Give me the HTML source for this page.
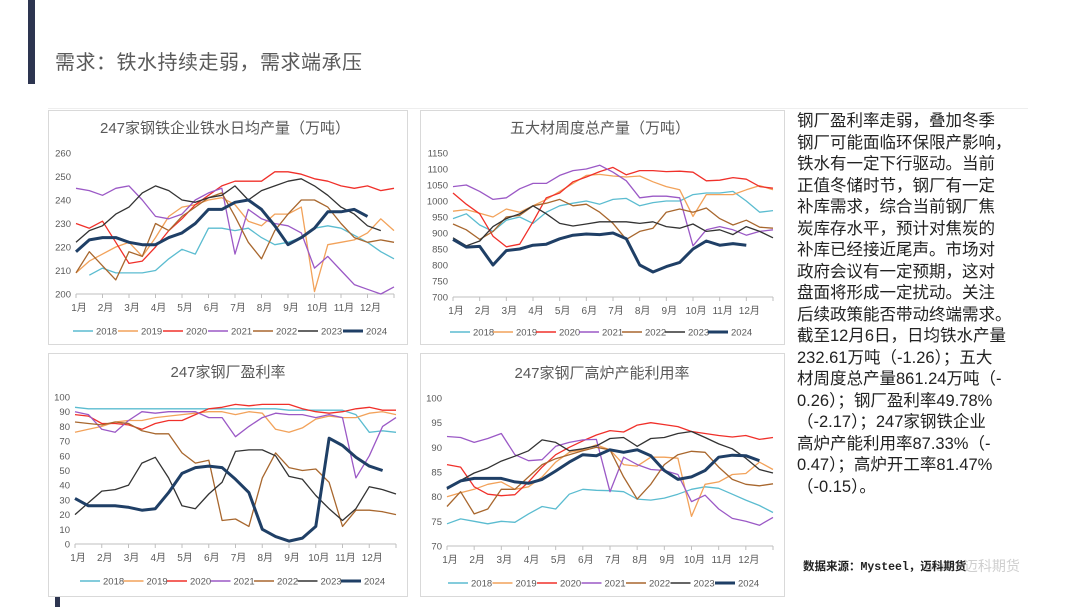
<!DOCTYPE html>
<html><head><meta charset="utf-8">
<style>
body{margin:0;width:1080px;height:607px;background:#fff;position:relative;overflow:hidden;font-family:"Liberation Sans","Noto Sans CJK SC",sans-serif;}
.abs{position:absolute;}
#title{left:55px;top:46px;font-size:20px;color:#5a5a5a;letter-spacing:0.5px;}
#body-text{left:797px;top:111px;font-size:16.5px;line-height:21.5px;color:#222;white-space:nowrap;}
#source{left:803px;top:558px;font-size:11.5px;font-weight:bold;color:#222;font-family:"Liberation Mono","Noto Sans CJK SC",monospace;}
.panel{position:absolute;border:1px solid #d9d9d9;box-sizing:border-box;}
</style></head><body>
<div class="abs" style="left:28px;top:0;width:7px;height:84px;background:#2d3550"></div>
<div class="abs" style="left:55px;top:596px;width:5px;height:11px;background:#2d3550"></div>
<div class="abs" id="title">需求：铁水持续走弱，需求端承压</div>
<div class="abs" style="left:48px;top:108px;width:980px;height:1px;background:#eeeeee"></div>
<div class="panel" style="left:48px;top:110px;width:360px;height:235px"></div>
<div class="panel" style="left:420px;top:110px;width:365px;height:235px"></div>
<div class="panel" style="left:48px;top:353px;width:360px;height:244px"></div>
<div class="panel" style="left:420px;top:353px;width:365px;height:244px"></div>
<svg id="svg" class="abs" style="left:0;top:0" width="1080" height="607"></svg>
<div class="abs" id="body-text">钢厂盈利率走弱，叠加冬季<br>钢厂可能面临环保限产影响，<br>铁水有一定下行驱动。当前<br>正值冬储时节，钢厂有一定<br>补库需求，综合当前钢厂焦<br>炭库存水平，预计对焦炭的<br>补库已经接近尾声。市场对<br>政府会议有一定预期，这对<br>盘面将形成一定扰动。关注<br>后续政策能否带动终端需求。<br>截至12月6日，日均铁水产量<br>232.61万吨（-1.26）；五大<br>材周度总产量861.24万吨（-<br>0.26）；钢厂盈利率49.78%<br>（-2.17）；247家钢铁企业<br>高炉产能利用率87.33%（-<br>0.47）；高炉开工率81.47%<br>（-0.15）。</div>
<div class="abs" style="left:925px;top:556px;font-size:14px;font-weight:bold;color:#cfcfcf;font-style:italic">Maike<span style="font-style:normal;font-weight:normal">迈科期货</span></div>
<div class="abs" id="source">数据来源：Mysteel，迈科期货</div>
<script>
const years=["2018","2019","2020","2021","2022","2023","2024"];
const colors=["#5bbcd0","#f2a25a","#f0302a","#9b59c6","#a8672e","#333333","#1f3f66"];
const months=["1月","2月","3月","4月","5月","6月","7月","8月","9月","10月","11月","12月"];
const c1Ticks=[200,210,220,230,240,250,260];
const c1_2018=[null,208,211,209,209,209,210,215,219,217,228,228,227,228,224,221,222,224,228,229,228,225,222,218,215];
const c1_2019=[209,214,217,220,222,216,224,233,237,238,240,241,238,231,229,234,234,237,201,221,222,223,226,232,227];
const c1_2020=[230,228,231,222,213,214,220,227,232,238,242,246,248,248,248,252,252,251,249,248,246,245,246,244,245];
const c1_2021=[245,244,242,245,246,240,233,232,234,240,243,245,217,236,232,230,229,226,211,216,210,204,202,199,203];
const c1_2022=[209,218,212,206,218,216,230,227,233,237,241,243,233,222,215,227,234,240,240,237,230,224,222,223,222];
const c1_2023=[222,227,229,234,237,243,246,244,240,239,241,242,246,240,244,246,248,249,246,242,237,234,229,227];
const c1_2024=[218,223,224,224,222,221,221,224,226,230,236,236,239,240,236,229,221,224,228,235,235,236,233];
const c2Ticks=[700,750,800,850,900,950,1000,1050,1100,1150];
const c2_2018=[945,960,925,905,940,950,930,965,985,993,1000,990,1005,1008,985,995,1000,1000,1020,1025,1025,1030,1000,965,970];
const c2_2019=[968,973,962,950,975,965,985,1005,1030,1055,1080,1083,1078,1075,1078,1060,1045,1035,952,1020,1020,1020,1035,1048,1035];
const c2_2020=[1025,990,960,890,857,865,935,1010,1025,1060,1075,1092,1105,1082,1095,1095,1092,1093,1090,1063,1065,1073,1068,1045,1040];
const c2_2021=[1045,1050,1030,1005,1010,1038,1055,1055,1080,1095,1100,1112,1090,1063,1010,1015,1015,1010,860,910,920,910,893,905,910];
const c2_2022=[928,910,880,905,950,955,985,993,1005,985,990,965,930,880,905,915,965,975,965,978,945,925,940,918,915];
const c2_2023=[885,860,875,920,945,960,985,960,930,922,928,935,935,935,930,935,920,915,928,905,910,895,920,905,885];
const c2_2024=[880,856,858,800,845,850,862,865,882,893,897,895,900,882,800,778,795,808,850,875,862,867,862];
const c3Ticks=[0,10,20,30,40,50,60,70,80,90,100];
const c3_2018=[93,92,92,92,92,92,92,92,92,92,92,92,92,92,92,92,91,91,91,91,91,88,76,77,76];
const c3_2019=[76,78,80,83,84,84,86,87,88,89,90,90,88,90,89,78,76,79,85,87,86,86,89,90,88];
const c3_2020=[88,87,82,82,81,78,82,84,84,88,92,93,95,94,95,95,95,92,90,89,90,92,93,91,91];
const c3_2021=[90,88,78,76,84,90,89,90,90,90,86,86,73,80,86,89,88,88,86,88,86,45,60,80,86];
const c3_2022=[83,82,81,83,82,77,75,75,62,55,57,16,17,12,45,62,52,50,51,42,12,23,23,22,20];
const c3_2023=[20,28,36,37,40,55,59,45,26,24,34,42,63,64,64,60,46,44,33,24,16,24,39,37,34];
const c3_2024=[31,26,26,26,25,23,24,35,48,52,53,52,44,35,10,5,2,4,12,72,67,59,53,50];
const c4Ticks=[70,75,80,85,90,95,100];
const c4_2018=[74.5,75.5,75,74.5,75,74.8,76.5,78,77.5,80.5,81.5,81.3,81.2,81,79.5,79.3,79.7,80.5,81.5,82,81.7,80.5,79.3,78.2,76.8];
const c4_2019=[80,80.8,81.5,82.5,83,81.5,82,84,87,89,89.5,90.5,89.5,86.5,86.2,88,88,87.8,76,82.5,83,84.5,84.7,87,85.5];
const c4_2020=[86.5,86,82,80.5,80.2,80.4,83,86,88.5,90,91.3,92.5,93.4,93.1,94.5,95,94.6,94.2,93.2,92.8,92.4,92.1,92.4,91.6,92];
const c4_2021=[92.2,92,91,91.8,92.8,88.5,87.3,87.5,90.2,91,91.5,91.6,81,88,86.5,85.5,85.3,84.5,79,80.3,77.5,75.6,75,74.2,75.8];
const c4_2022=[78,81,76.5,77.5,81.5,81.5,84,86.5,87.7,88.5,89.3,90,89.5,84,79.5,82.5,86.5,88.5,89.2,89,86,83.5,82.5,82.2,82.6];
const c4_2023=[81.5,83.3,84.8,85.8,87.2,88.2,89.3,91.5,91,89.3,89.7,90.3,91.8,92,90.2,91.8,92,92.8,93.2,92,90.7,89.7,87.8,85.5,84.8];
const c4_2024=[81.7,83.2,83.7,83.7,83.7,83,82.7,83.5,85.2,87,88.5,88.3,89.5,89,89.5,88.3,85.3,83.5,84,85.3,88,88.4,88.3,87.3];

const NS="http://www.w3.org/2000/svg";
const svg=document.getElementById('svg');
function mk(tag,attrs,parent){const e=document.createElementNS(NS,tag);for(const k in attrs)e.setAttribute(k,attrs[k]);(parent||svg).appendChild(e);return e;}

function drawChart(cfg){
  const g=mk('g',{});
  
  
  const lo=cfg.ticks[0],hi=cfg.ticks[cfg.ticks.length-1];
  const xs=i=>cfg.x0+i*(cfg.x1-cfg.x0)/24;
  const ys=v=>cfg.yTop+(hi-v)*(cfg.yBot-cfg.yTop)/(hi-lo);
  const t=mk('text',{x:cfg.tx,y:cfg.ty,'text-anchor':'middle','font-size':15,fill:'#595959','font-family':'Liberation Sans, Noto Sans CJK SC, sans-serif'},g);
  t.textContent=cfg.title;
  
  
  cfg.ticks.forEach(v=>{
    const l=mk('text',{x:cfg.x0-5,y:ys(v)+3.5,'text-anchor':'end','font-size':9.5,fill:'#595959'},g);
    l.textContent=v;
    
    
  });
  mk('line',{x1:cfg.x0,x2:cfg.x1,y1:cfg.yBot,y2:cfg.yBot,stroke:'#bfbfbf','stroke-width':1},g);
  for(let m=0;m<=12;m++){
    const x=cfg.x0+m*(cfg.x1-cfg.x0)/12;
    mk('line',{x1:x,x2:x,y1:cfg.yBot,y2:cfg.yBot+4,stroke:'#bfbfbf'},g);
  }
  months.forEach((mo,m)=>{
    const l=mk('text',{x:cfg.x0+m*(cfg.x1-cfg.x0)/12+3,y:cfg.yBot+17,'text-anchor':'middle','font-size':10,fill:'#595959'},g);
    l.textContent=mo;
    
    
  });
  cfg.series.forEach((arr,k)=>{
    let d='';let pen=false;
    arr.forEach((v,i)=>{ if(v==null){pen=false;return;} d+=(pen?'L':'M')+xs(i).toFixed(1)+' '+ys(Math.max(lo,v)).toFixed(1);pen=true;});
    const p=mk('path',{d:d,fill:'none',stroke:colors[k],'stroke-width':k===6?3:1.3,'stroke-linejoin':'round'},g);
    
    
  });
  years.forEach((yr,k)=>{
    const lx=cfg.lx+k*cfg.ls;
    const lg=mk('g',{},g);
    
    
    mk('line',{x1:lx,x2:lx+20,y1:cfg.ly,y2:cfg.ly,stroke:colors[k],'stroke-width':k===6?3:1.5},lg);
    const tx=mk('text',{x:lx+23,y:cfg.ly+3.5,'font-size':9.5,fill:'#595959'},lg);
    tx.textContent=yr;
  });
}
drawChart({name:'chart-iron-output',title:'247家钢铁企业铁水日均产量（万吨）',tx:225,ty:133,x0:76,x1:394,yTop:153,yBot:294,ticks:c1Ticks,series:[c1_2018,c1_2019,c1_2020,c1_2021,c1_2022,c1_2023,c1_2024],lx:73,ls:45,ly:331});
drawChart({name:'chart-five-materials',title:'五大材周度总产量（万吨）',tx:600,ty:133,x0:453,x1:773,yTop:153,yBot:297,ticks:c2Ticks,series:[c2_2018,c2_2019,c2_2020,c2_2021,c2_2022,c2_2023,c2_2024],lx:450,ls:43,ly:332});
drawChart({name:'chart-profit-rate',title:'247家钢厂盈利率',tx:228,ty:377,x0:75,x1:396,yTop:397,yBot:544,ticks:c3Ticks,series:[c3_2018,c3_2019,c3_2020,c3_2021,c3_2022,c3_2023,c3_2024],lx:80,ls:43.5,ly:581});
drawChart({name:'chart-blast-furnace',title:'247家钢厂高炉产能利用率',tx:602,ty:378,x0:447,x1:773,yTop:398,yBot:546,ticks:c4Ticks,series:[c4_2018,c4_2019,c4_2020,c4_2021,c4_2022,c4_2023,c4_2024],lx:448,ls:44.5,ly:583});
</script>
</body></html>
